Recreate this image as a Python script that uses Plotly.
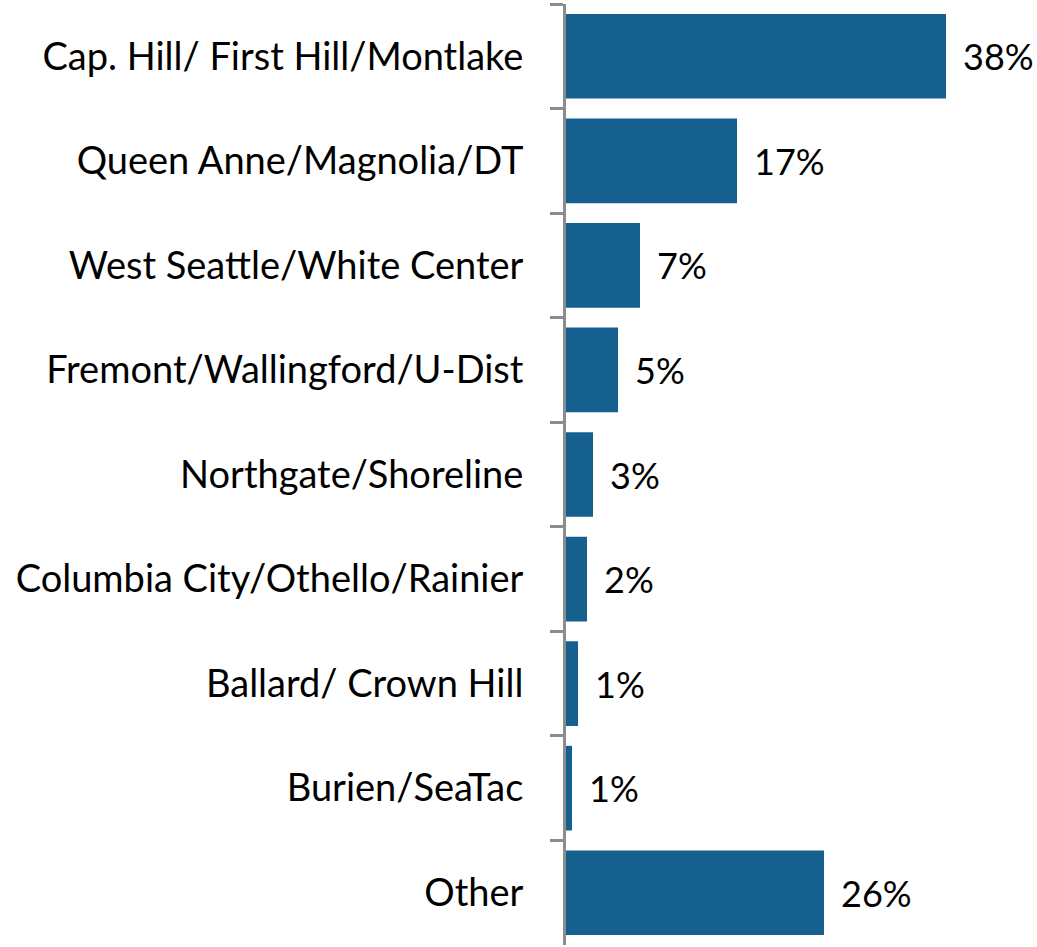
import plotly.graph_objects as go

categories = ["Cap. Hill/ First Hill/Montlake", "Queen Anne/Magnolia/DT", "West Seattle/White Center",
              "Fremont/Wallingford/U-Dist", "Northgate/Shoreline", "Columbia City/Othello/Rainier",
              "Ballard/ Crown Hill", "Burien/SeaTac", "Other"]
values = [38.0, 17.1, 7.4, 5.2, 2.7, 2.1, 1.2, 0.6, 25.8]
labels = ["38%", "17%", "7%", "5%", "3%", "2%", "1%", "1%", "26%"]

FONT = "Lato"
FS = 38

fig = go.Figure(go.Bar(
    y=categories, x=values, orientation="h",
    marker=dict(color="#15608E", line=dict(width=0)),
    width=0.81,
))
for c, v, t in zip(categories, values, labels):
    fig.add_annotation(x=v, y=c, text=t, showarrow=False, xanchor="left", xshift=15,
                       font=dict(size=36, family=FONT, color="#000000"))
fig.update_layout(
    width=1037, height=947,
    margin=dict(l=566, r=0, t=4, b=2),
    plot_bgcolor="white", paper_bgcolor="white",
    showlegend=False,
    font=dict(family=FONT, size=FS, color="#000000"),
)
fig.update_xaxes(range=[0, 47.1], visible=False, showgrid=False)
fig.update_yaxes(autorange="reversed", showline=True, linecolor="#8C8C8C", linewidth=3,
                 ticks="outside", tickson="boundaries", ticklen=13, tickcolor="#8C8C8C", tickwidth=3,
                 showgrid=False, ticklabelstandoff=32, automargin=False,
                 tickfont=dict(size=FS, family=FONT, color="#000000"))
fig.write_html("out.html", config={"displayModeBar": False},
               post_script="document.body.style.margin='0';")
